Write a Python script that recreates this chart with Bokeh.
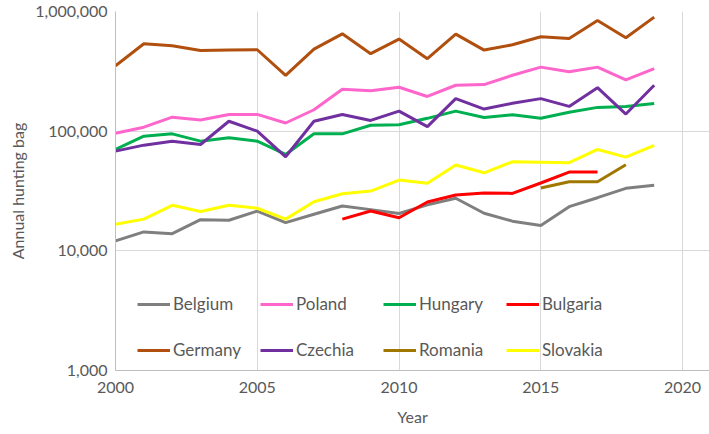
from bokeh.plotting import figure
from bokeh.models import (Legend, LegendItem, FixedTicker, NumeralTickFormatter, Range1d)
from bokeh.embed import file_html
from bokeh.resources import INLINE

years = list(range(2000, 2020))

belgium = [12100, 14400, 13900, 18200, 18000, 21500, 17200, 20200, 23700, 22100,
           20500, 24200, 27500, 20600, 17700, 16300, 23400, 27800, 33300, 35300]
poland = [96200, 108000, 131000, 124000, 138000, 138000, 117000, 151000, 224000, 218000,
          233000, 195000, 242000, 245000, 293000, 343000, 314000, 343000, 268000, 333000]
hungary = [70300, 90800, 95000, 82500, 88000, 82500, 63900, 95000, 95000, 112000,
           113000, 128000, 147000, 130000, 137000, 128000, 144000, 158000, 161000, 170000]
bulgaria_years = list(range(2008, 2018))
bulgaria = [18400, 21500, 18900, 25600, 29300, 30400, 30200, 36900, 45500, 45500]
germany = [352000, 538000, 518000, 473000, 476000, 479000, 293000, 485000, 651000, 444000,
           588000, 403000, 647000, 476000, 527000, 615000, 596000, 841000, 603000, 897000]
czechia = [68100, 76400, 82500, 77400, 121000, 100000, 61100, 121000, 138000, 123000,
           147000, 109000, 187000, 153000, 171000, 187000, 161000, 231000, 139000, 242000]
romania_years = [2015, 2016, 2017, 2018]
romania = [33500, 37800, 37800, 52400]
slovakia = [16700, 18400, 24000, 21300, 24000, 22700, 18400, 25700, 30000, 31600,
            39000, 36700, 52100, 44900, 55500, 55000, 54500, 70300, 60700, 76000]

series = [
    ("Belgium", years, belgium, "#7f7f7f"),
    ("Poland", years, poland, "#ff66cc"),
    ("Hungary", years, hungary, "#00b050"),
    ("Bulgaria", bulgaria_years, bulgaria, "#ff0000"),
    ("Germany", years, germany, "#b04f0e"),
    ("Czechia", years, czechia, "#7030a0"),
    ("Romania", romania_years, romania, "#a07800"),
    ("Slovakia", years, slovakia, "#ffff00"),
]

x_ticks = [2000, 2005, 2010, 2015, 2020]
y_ticks = [1000, 10000, 100000, 1000000]

FONT = "Lato"
TXT = "#595959"

p = figure(width=709, height=434, y_axis_type="log",
           x_range=Range1d(2000, 2020.95), y_range=Range1d(1000, 1000000),
           output_backend="svg", toolbar_location=None,
           min_border_left=115, min_border_right=0, min_border_top=11, min_border_bottom=64)
p.outline_line_color = None
p.background_fill_color = "white"

renderers = []
for name, xs, ys, col in series:
    r = p.line(xs, ys, line_color=col, line_width=3)
    renderers.append((name, r))

for ax in (p.xaxis[0], p.yaxis[0]):
    ax.major_tick_line_color = None
    ax.minor_tick_line_color = None
    ax.major_tick_out = 0
    ax.major_tick_in = 0
    ax.minor_tick_out = 0
    ax.axis_line_color = "#bfbfbf"
    ax.axis_line_width = 1
    ax.major_label_text_font = FONT
    ax.major_label_text_font_size = "16px"
    ax.major_label_text_color = TXT
    ax.axis_label_text_font = FONT
    ax.axis_label_text_font_size = "16px"
    ax.axis_label_text_color = TXT
    ax.axis_label_text_font_style = "normal"

p.xaxis.ticker = FixedTicker(ticks=x_ticks)
p.yaxis.ticker = FixedTicker(ticks=y_ticks)
p.yaxis.formatter = NumeralTickFormatter(format="0,0")
p.xaxis.major_label_standoff = 11
p.yaxis.major_label_standoff = 8
p.xaxis.axis_label = "Year"
p.yaxis.axis_label = "Annual hunting bag"
p.xaxis.axis_label_standoff = 11
p.yaxis.axis_label_standoff = 5

p.xgrid.ticker = FixedTicker(ticks=x_ticks)
p.ygrid.ticker = FixedTicker(ticks=y_ticks)
p.grid.grid_line_color = "#d9d9d9"
p.grid.grid_line_width = 1
p.ygrid.minor_grid_line_color = None

def make_legend(items, loc):
    lg = Legend(items=[LegendItem(label=n, renderers=[r]) for n, r in items],
                orientation="horizontal", location=loc,
                glyph_width=33, glyph_height=20, label_standoff=3, label_width=87,
                spacing=0, padding=0, margin=0,
                border_line_color=None, background_fill_alpha=0,
                label_text_font=FONT, label_text_font_size="17px",
                label_text_color=TXT, label_height=20)
    p.add_layout(lg, "center")

make_legend(renderers[:4], (22, 56))
make_legend(renderers[4:], (22, 10))

open("out.html", "w").write(file_html(p, INLINE))
